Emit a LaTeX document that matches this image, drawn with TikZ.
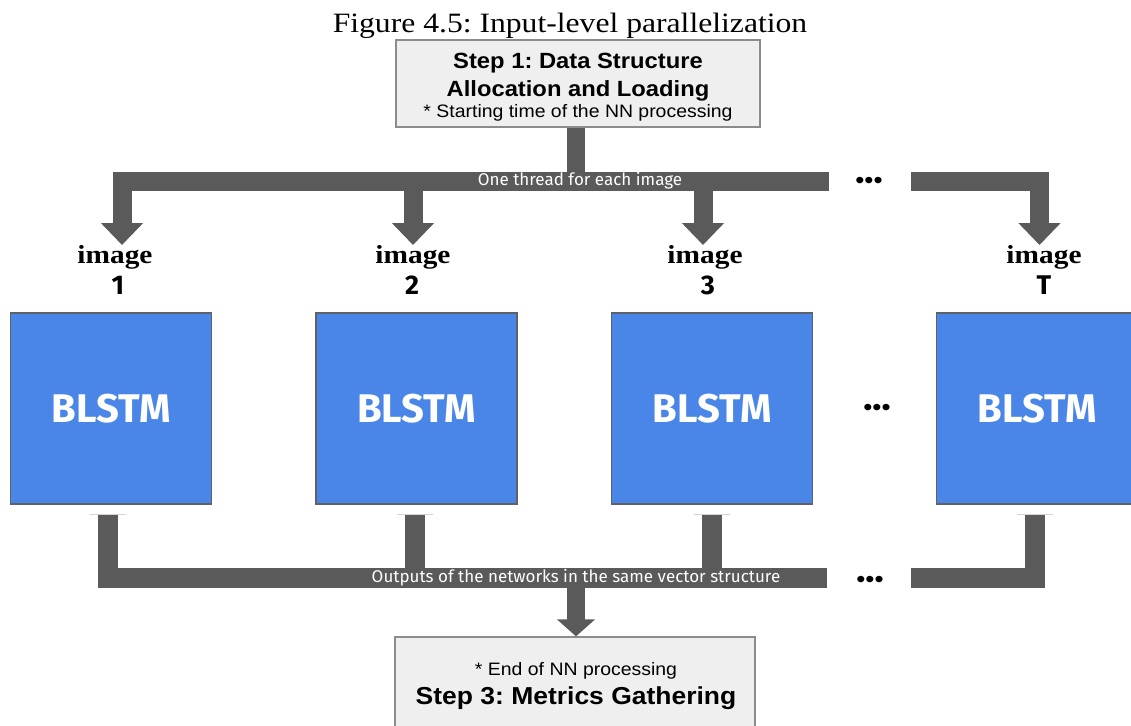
\documentclass[tikz,border=0pt]{standalone}
\usepackage{fontspec}
\setmainfont{Liberation Sans}[FakeStretch=1.08]
\newfontfamily\captionfont{Liberation Serif}[FakeStretch=1.13]
\newfontfamily\slidefont{Fira Sans}
\usetikzlibrary{arrows.meta}

\definecolor{busgray}{HTML}{5A5A5A}
\definecolor{netblue}{HTML}{4A86E8}
\definecolor{netedge}{HTML}{5E6168}
\definecolor{stepfill}{HTML}{EFEFEF}
\definecolor{stepedge}{HTML}{8C8C8C}
\definecolor{tickgray}{HTML}{D4D4D4}

\begin{document}
\frenchspacing
\begin{tikzpicture}[x=1pt,y=-1pt,
  stepbox/.style={draw=stepedge, fill=stepfill, line width=1.2pt,
    minimum width=364pt, minimum height=87pt, inner sep=0pt},
  stephead/.style={anchor=base, inner sep=0pt,
    font=\bfseries\fontsize{22}{22}\selectfont},
  stepnote/.style={anchor=base, inner sep=0pt,
    font=\fontsize{18}{18}\selectfont},
  netbox/.style={draw=netedge, fill=netblue, line width=1.4pt,
    minimum width=201pt, minimum height=191pt, inner sep=0pt,
    text=white, font=\slidefont\bfseries\fontsize{40}{40}\selectfont},
  imglabel/.style={inner sep=0pt, font=\captionfont\bfseries\fontsize{26}{26}\selectfont},
  numlabel/.style={inner sep=0pt, font=\slidefont\bfseries\fontsize{27}{27}\selectfont},
  buslabel/.style={inner sep=0pt, text=white,
    font=\slidefont\fontsize{17}{17}\selectfont},
  dotsmark/.style={inner sep=0pt, font=\fontsize{24}{24}\selectfont},
  bus/.style={draw=busgray, line width=19pt, line join=miter},
  feed/.style={bus, -{Triangle[width=41pt,length=22pt]}},
  tick/.style={draw=tickgray, line width=0.9pt}
]
\useasboundingbox (0,0) rectangle (1131,725);

% caption
\node[anchor=base, inner sep=0pt, font=\captionfont\fontsize{28}{28}\selectfont]
  (caption) at (570,33) {Figure 4.5: Input-level parallelization};

% step 1
\node[stepbox] (s1) at (578,83.5) {};
\node[stephead] (s1a) at (578,68) {Step 1: Data Structure};
\node[stephead] (s1b) at (578,96) {Allocation and Loading};
\node[stepnote] (s1c) at (578,117) {* Starting time of the NN processing};

% image labels
\foreach \n/\ix/\nx in {1/115/118, 2/413/412, 3/705/708, T/1044/1044}{
  \node[imglabel] (i\n) at (\ix,257) {image};
  \node[numlabel] (n\n) at (\nx,285) {\n};
}

% networks
\node[netbox] (b1) at (111,408.5) {BLSTM};
\node[netbox] (b2) at (416.5,408.5) {BLSTM};
\node[netbox] (b3) at (712,408.5) {BLSTM};
\node[netbox] (bT) at (1037,408.5) {BLSTM};

% step 3
\node[stepbox, minimum width=360pt, minimum height=100pt] (s3) at (575,687) {};
\node[stepnote] (s3a) at (576,675) {* End of NN processing};
\node[stephead, font=\bfseries\fontsize{24.5}{24.5}\selectfont] (s3b) at (576,704) {Step 3: Metrics Gathering};

% distribution bus
\coordinate (splitT) at (576,182);
\coordinate (topL) at (829,181.5);
\coordinate (topR) at (911,181.5);
\coordinate (t1) at (122,245);
\coordinate (t2) at (413,245);
\coordinate (t3) at (703,245);
\coordinate (tT) at (1039.5,245);
\draw[bus, line width=18pt] (s1.south -| splitT) -- (splitT);
\draw[feed] (topL) -- (t1 |- topL) -- (t1);
\draw[feed] (t2 |- topL) -- (t2);
\draw[feed] (t3 |- topL) -- (t3);
\draw[feed] (topR) -- (tT |- topR) -- (tT);
\node[buslabel] (lblT) at (580,181) {One thread for each image};
\node[dotsmark] (dTop) at (869,183) {•••};

% gathering bus
\coordinate (o1) at (107.5,514);
\coordinate (o2) at (414.5,514);
\coordinate (o3) at (712,514);
\coordinate (oT) at (1035,514);
\coordinate (botL) at (827,578);
\coordinate (botR) at (911,578);
\coordinate (joinB) at (576,578);
\draw[bus, line width=20pt] (o1) -- (o1 |- botL) -- (botL);
\draw[bus, line width=20pt] (o2) -- (o2 |- botL);
\draw[bus, line width=20pt] (o3) -- (o3 |- botL);
\draw[bus, line width=20pt] (botR) -- (oT |- botR) -- (oT);
\draw[bus, line width=18pt, -{Triangle[width=37pt,length=17pt]}] (joinB) -- (s3.north -| joinB);
\foreach \c in {o1,o2,o3,oT}{
  \draw[tick] ([xshift=-18pt,yshift=-0.5pt]\c) -- ([xshift=18pt,yshift=-0.5pt]\c);
}
\node[buslabel] (lblB) at (576,578) {Outputs of the networks in the same vector structure};
\node[dotsmark] (dBot) at (870,582) {•••};

% gap between the last two networks
\node[dotsmark] (dMid) at (877,410) {•••};
\end{tikzpicture}
\end{document}
